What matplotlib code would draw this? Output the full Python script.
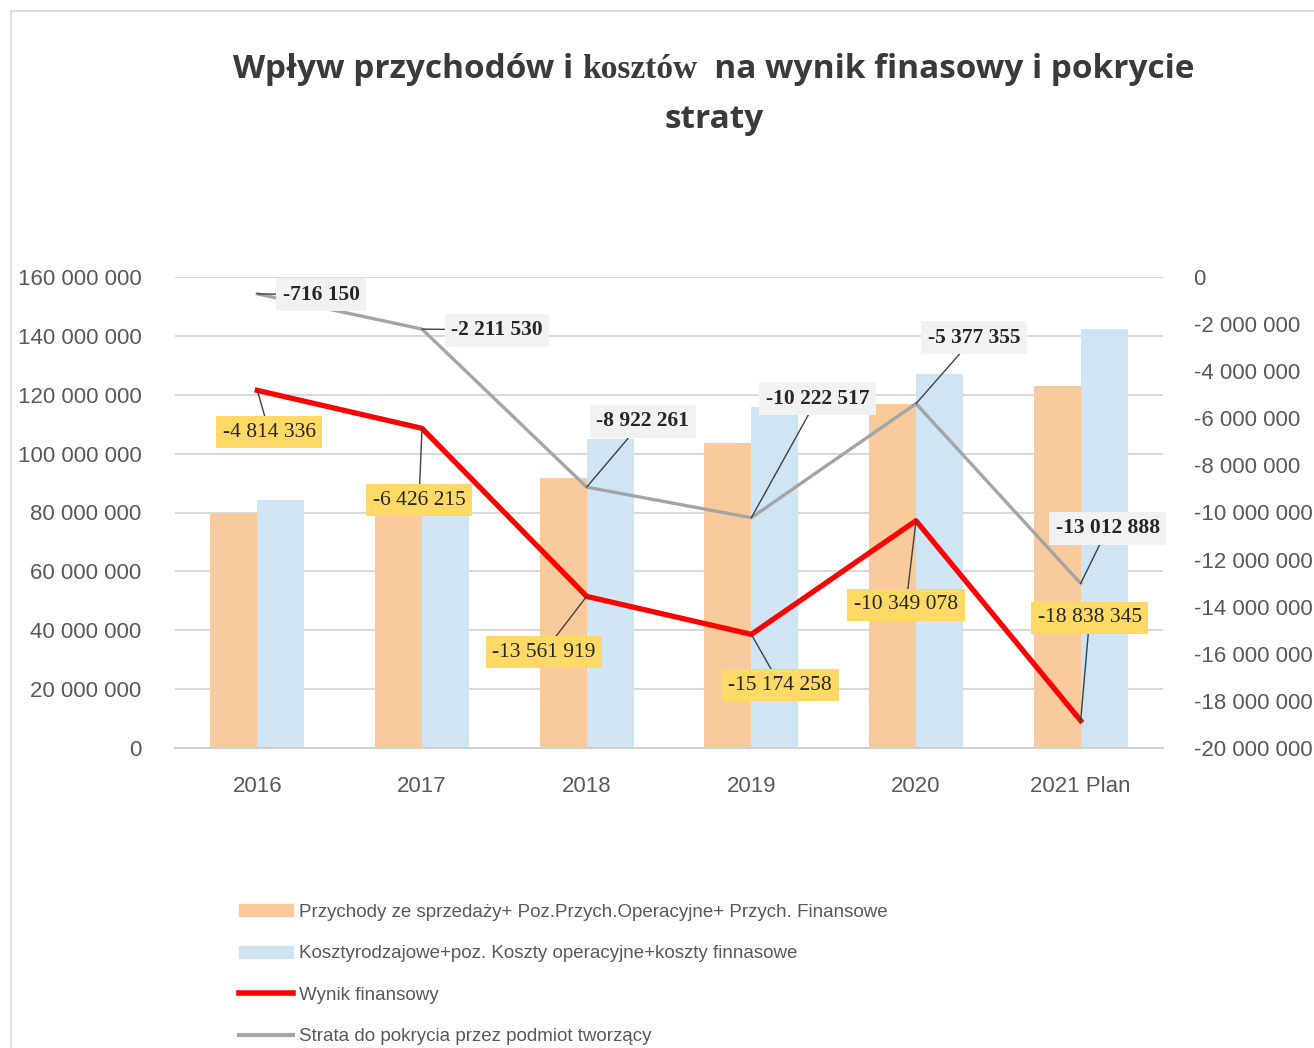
import matplotlib
matplotlib.use("Agg")
import matplotlib.pyplot as plt
import numpy as np
from matplotlib.patches import Rectangle, Patch
from matplotlib.lines import Line2D
from matplotlib.ticker import FuncFormatter

categories = ["2016", "2017", "2018", "2019", "2020", "2021 Plan"]
przychody = [80_000_000, 82_000_000, 91_800_000, 103_700_000, 116_800_000, 123_000_000]
koszty = [84_300_000, 80_000_000, 105_000_000, 116_000_000, 127_000_000, 142_200_000]
wynik = [-4814336, -6426215, -13561919, -15174258, -10349078, -18838345]
strata = [-716150, -2211530, -8922261, -10222517, -5377355, -13012888]

legend_labels = [
    "Przychody ze sprzedaży+ Poz.Przych.Operacyjne+ Przych. Finansowe",
    "Kosztyrodzajowe+poz. Koszty operacyjne+koszty finnasowe",
    "Wynik finansowy",
    "Strata do pokrycia przez podmiot tworzący",
]

# label offsets in pixels (from point to label centre)
wynik_off = [(12, -42), (-3, -72), (-43, -56), (29, -51), (-10, -84), (9, 103)]
strata_off = [(64, -1), (75, -1), (56, 66), (66, 119), (58, 66), (27, 55)]

ORANGE = "#F9CB9C"
BLUE = "#CFE5F4"
TXT = "#595959"


def spaced(v, pos=None):
    s = "{:,.0f}".format(abs(v)).replace(",", " ")
    return ("-" + s) if v < 0 else s


fig = plt.figure(figsize=(13.14, 10.48), dpi=100)
fig.patches.append(Rectangle((11 / 1314, -0.1), 1.2, 1 - 11 / 1048 + 0.1,
                             transform=fig.transFigure, fill=False,
                             edgecolor="#D9D9D9", linewidth=1.2))

ax = fig.add_axes([175 / 1314, 1 - 748 / 1048, 988 / 1314, 471 / 1048])
x = np.arange(len(categories))
w = 0.285
ax.bar(x - w / 2, przychody, w, color=ORANGE, zorder=2)
ax.bar(x + w / 2, koszty, w, color=BLUE, zorder=2)
ax.set_xlim(-0.5, 5.5)
ax.set_ylim(0, 160_000_000)
ax.set_yticks(np.arange(0, 160_000_001, 20_000_000))
ax.yaxis.set_major_formatter(FuncFormatter(spaced))
ax.grid(axis="y", color="#D9D9D9", linewidth=1.5, zorder=0)
ax.set_axisbelow(True)
for s in ["top", "right", "left"]:
    ax.spines[s].set_visible(False)
ax.spines["bottom"].set_color("#D0D0D0")
ax.spines["bottom"].set_linewidth(1.5)
ax.set_xticks(x)
ax.set_xticklabels(categories)
ax.tick_params(axis="both", length=0, labelsize=16, labelcolor=TXT)
ax.tick_params(axis="x", pad=20)
ax.tick_params(axis="y", pad=24)
for t in ax.get_xticklabels() + ax.get_yticklabels():
    t.set_fontfamily("Liberation Sans")

ax2 = ax.twinx()
ax2.set_ylim(-20_000_000, 0)
ax2.set_yticks(np.arange(-20_000_000, 1, 2_000_000))
ax2.yaxis.set_major_formatter(FuncFormatter(spaced))
for s in ax2.spines.values():
    s.set_visible(False)
ax2.tick_params(axis="y", length=0, labelsize=16, labelcolor=TXT, pad=22)
for t in ax2.get_yticklabels():
    t.set_fontfamily("Liberation Sans")

ax2.plot(x, strata, color="#A5A5A5", linewidth=2.4, zorder=3)
ax2.plot(x, wynik, color="#FF0000", linewidth=3.8, zorder=4)

for xi, v, off in zip(x, wynik, wynik_off):
    ax2.annotate(spaced(v), (xi, v), xytext=off, textcoords="offset pixels",
                 ha="center", va="center", fontsize=15.5, family="Liberation Serif",
                 color="#262626", zorder=6,
                 bbox=dict(boxstyle="square,pad=0.3", fc="#FFD966", ec="none"),
                 arrowprops=dict(arrowstyle="-", color="#404040", lw=1,
                                 shrinkA=0, shrinkB=0))
for xi, v, off in zip(x, strata, strata_off):
    ax2.annotate(spaced(v), (xi, v), xytext=off, textcoords="offset pixels",
                 ha="center", va="center", fontsize=15.5, family="Liberation Serif",
                 fontweight="bold", color="#262626", zorder=6,
                 bbox=dict(boxstyle="square,pad=0.3", fc="#F2F2F2", ec="none"),
                 arrowprops=dict(arrowstyle="-", color="#404040", lw=1,
                                 shrinkA=0, shrinkB=0))

# title: mixed fonts in first line
fig.canvas.draw()
r = fig.canvas.get_renderer()
parts = [("Wpływ przychodów i ", "Open Sans", "bold", 24),
         ("kosztów", "Liberation Serif", "bold", 24),
         ("  na wynik finasowy i pokrycie", "Open Sans", "bold", 24)]
objs = []
for txt, fam, wt, sz in parts:
    objs.append(fig.text(0, 1 - 70 / 1048, txt, family=fam, fontweight=wt,
                         fontsize=sz, color="#3A3A3A", va="center", ha="left"))
widths = [o.get_window_extent(r).width for o in objs]
start = 714 - sum(widths) / 2
for o, wd in zip(objs, widths):
    o.set_x(start / 1314)
    start += wd
fig.text(714 / 1314, 1 - 120 / 1048, "straty", family="Open Sans", fontweight="bold",
         fontsize=24, color="#3A3A3A", ha="center", va="center")

handles = [Patch(color=ORANGE), Patch(color=BLUE),
           Line2D([], [], color="#FF0000", lw=4),
           Line2D([], [], color="#A5A5A5", lw=3)]
leg = fig.legend(handles, legend_labels, loc="upper left",
                 bbox_to_anchor=(222 / 1314, 1 - 887 / 1048), frameon=False,
                 prop={"family": "Liberation Sans", "size": 13.5},
                 handlelength=2.9, handleheight=0.6, handletextpad=0.3,
                 labelspacing=1.3, labelcolor=TXT)

fig.savefig("out.png", dpi=100)
